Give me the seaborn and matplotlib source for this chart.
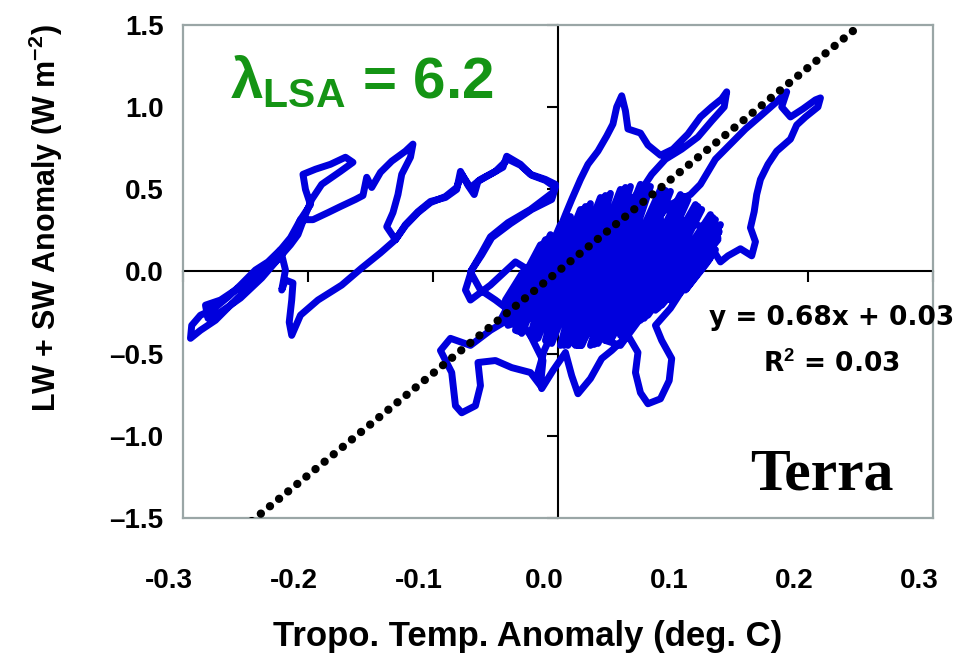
import matplotlib
matplotlib.use("Agg")
import matplotlib.pyplot as plt
import matplotlib.transforms as mtransforms
import seaborn as sns
import pandas as pd

# ---------------- data ----------------
temp_anom = [
    0.006, -0.008, -0.022, -0.038, -0.054, -0.070, -0.086, -0.094, -0.085, -0.082,
    -0.077, -0.066, -0.062, -0.064, -0.050, -0.037, -0.022, -0.014, -0.012, -0.022,
    -0.034, -0.050, -0.062, -0.070, -0.062, -0.054, -0.040, -0.022, -0.004, -0.002,
    -0.010, -0.022, -0.030, -0.041, -0.044, -0.054, -0.064, -0.067, -0.072, -0.078,
    -0.081, -0.090, -0.102, -0.112, -0.122, -0.130, -0.142, -0.157, -0.173, -0.192,
    -0.206, -0.213, -0.215, -0.213, -0.212, -0.218, -0.221, -0.218, -0.222, -0.232,
    -0.242, -0.254, -0.264, -0.277, -0.286, -0.293, -0.294, -0.286, -0.274, -0.262,
    -0.246, -0.230, -0.214, -0.206, -0.198, -0.202, -0.204, -0.194, -0.182, -0.170,
    -0.164, -0.174, -0.189, -0.197, -0.202, -0.208, -0.214, -0.226, -0.237, -0.246,
    -0.258, -0.270, -0.282, -0.280, -0.270, -0.254, -0.237, -0.221, -0.210, -0.206,
    -0.196, -0.184, -0.174, -0.162, -0.156, -0.153, -0.149, -0.142, -0.133, -0.122,
    -0.116, -0.118, -0.125, -0.128, -0.132, -0.137, -0.130, -0.122, -0.112, -0.102,
    -0.090, -0.081, -0.077, -0.070, -0.062, -0.050, -0.040, -0.030, -0.021, -0.010,
    -0.002, -0.005, -0.021, -0.038, -0.053, -0.061, -0.069, -0.074, -0.070,
    -0.054, -0.034, -0.026, -0.042, -0.030, -0.010, 0.002, -0.001, 0.006, 0.011,
    0.018, 0.024, 0.032, 0.039, 0.044, 0.047, 0.051, 0.054, 0.056, 0.066,
    0.072, 0.082, 0.092, 0.104, 0.114, 0.123, 0.131, 0.135, 0.133, 0.123,
    0.112, 0.099, 0.086, 0.075, 0.066, 0.058, 0.043, 0.034, 0.024, 0.014,
    0.006, 0.018, 0.030, 0.042, 0.054, 0.066, 0.078, 0.090, 0.106, 0.114,
    0.126, 0.138, 0.150, 0.162, 0.174, 0.183, 0.179, 0.186, 0.196, 0.206,
    0.210, 0.208, 0.198, 0.191, 0.186, 0.175, 0.168, 0.162, 0.159, 0.157,
    0.154, 0.158, 0.155, 0.146, 0.136, 0.130, 0.123, 0.114, 0.104, 0.090,
    0.078, 0.066, 0.050, 0.038, 0.050, 0.062, 0.074, 0.086, 0.098, 0.118,
    0.128, 0.114, 0.102, 0.090, 0.078, 0.083, 0.091, 0.089, 0.082, 0.072,
    0.066, 0.062, 0.064, 0.056, 0.043, 0.035, 0.026, 0.016, 0.011, 0.006,
    -0.004, -0.013, -0.016, -0.011, -0.002, 0.014, 0.034, 0.050, 0.066, 0.082,
    0.070, 0.054, 0.038, 0.026, 0.010, -0.008, -0.018, -0.006, 0.014, 0.022,
    0.030, 0.042, 0.054, 0.066, 0.050, 0.034, 0.018, 0.002,
    -0.046, -0.014, -0.034, 0.002, -0.022, 0.018, -0.010, 0.034, 0.002, 0.050,
    0.014, 0.066, 0.026, 0.082, 0.038, 0.098, 0.050, 0.110, 0.066, 0.122,
    0.078, 0.130, 0.090, 0.126, 0.102, 0.118,
    0.122, 0.096, 0.128, 0.083, 0.126, 0.072, 0.115, 0.058, 0.104, 0.043,
    0.090, 0.032, 0.074, 0.019, 0.058, 0.008, 0.042, -0.005, 0.026, -0.016,
    0.010, -0.029, -0.006, -0.040,
    0.123, 0.093, 0.129, 0.080, 0.124, 0.069, 0.112, 0.054, 0.101, 0.040,
    0.086, 0.029, 0.070, 0.016, 0.054, 0.005, 0.038, -0.008, 0.022, -0.019,
    0.006, -0.032, -0.010, -0.043,
]
flux_anom = [
    0.058, -0.052, -0.174, -0.285, -0.358, -0.450, -0.407, -0.481, -0.615, -0.817,
    -0.860, -0.817, -0.695, -0.554, -0.542, -0.585, -0.615, -0.695, -0.542, -0.389,
    -0.266, -0.174, -0.113, -0.003, 0.101, 0.211, 0.297, 0.377, 0.481, 0.530,
    0.560, 0.591, 0.652, 0.701, 0.634, 0.591, 0.548, 0.468, 0.524, 0.609,
    0.499, 0.450, 0.426, 0.364, 0.285, 0.193, 0.113, 0.021, -0.083, -0.174,
    -0.266, -0.389, -0.309, -0.174, -0.070, -0.052, -0.113, 0.009, 0.132, 0.058,
    0.009, -0.083, -0.156, -0.236, -0.266, -0.328, -0.407, -0.358, -0.297, -0.205,
    -0.083, 0.058, 0.205, 0.315, 0.407, 0.499, 0.591, 0.622, 0.652, 0.695,
    0.664, 0.609, 0.530, 0.438, 0.346, 0.224, 0.162, 0.058, -0.003, -0.052,
    -0.113, -0.174, -0.205, -0.285, -0.248, -0.162, -0.040, 0.101, 0.242, 0.315,
    0.315, 0.358, 0.395, 0.438, 0.462, 0.573, 0.511, 0.603, 0.671, 0.732,
    0.775, 0.695, 0.591, 0.468, 0.358, 0.272, 0.193, 0.279, 0.358, 0.419,
    0.456, 0.511, 0.591, 0.511, 0.560, 0.609, 0.683, 0.646, 0.585, 0.554,
    0.511, 0.438, 0.377, 0.291, 0.205, 0.101, 0.009, -0.113, -0.174,
    -0.083, 0.058, 0.021, -0.174, -0.205, 0.009, 0.132, 0.211, 0.346, 0.438,
    0.560, 0.652, 0.732, 0.824, 0.897, 1.001, 1.069, 0.977, 0.867, 0.842,
    0.769, 0.707, 0.744, 0.836, 0.940, 1.001, 1.050, 1.093, 1.001, 0.916,
    0.818, 0.744, 0.683, 0.591, 0.487, 0.346, 0.193, 0.058, -0.113, -0.266,
    -0.420, -0.450, -0.285, -0.113, 0.058, 0.193, 0.315, 0.407, 0.468, 0.530,
    0.683, 0.775, 0.867, 0.946, 1.026, 1.093, 1.001, 0.940, 0.989, 1.044,
    1.056, 1.001, 0.940, 0.891, 0.805, 0.732, 0.652, 0.560, 0.468, 0.364,
    0.266, 0.181, 0.095, 0.138, 0.095, 0.058, 0.144, 0.205, 0.162, 0.021,
    -0.126, -0.285, -0.450, -0.420, -0.297, -0.144, 0.009, 0.162, 0.315, 0.266,
    0.193, 0.058, -0.083, -0.224, -0.328, -0.420, -0.530, -0.664, -0.775, -0.805,
    -0.738, -0.615, -0.493, -0.389, -0.481, -0.530, -0.652, -0.744, -0.634, -0.493,
    -0.603, -0.713, -0.615, -0.481, -0.328, -0.174, -0.021, 0.101, 0.224, 0.315,
    0.101, -0.083, -0.174, -0.236, -0.297, -0.174, -0.328, -0.358, -0.113, 0.132,
    0.254, 0.303, 0.407, 0.487, 0.254, 0.132, -0.003, -0.113,
    -0.297, 0.162, -0.358, 0.285, -0.389, 0.377, -0.420, 0.450, -0.450, 0.499,
    -0.450, 0.530, -0.450, 0.499, -0.420, 0.468, -0.389, 0.407, -0.297, 0.346,
    -0.236, 0.285, -0.174, 0.132, -0.113, 0.040,
    0.083, -0.144, 0.205, -0.205, 0.315, -0.266, 0.377, -0.346, 0.438, -0.407,
    0.487, -0.438, 0.517, -0.450, 0.517, -0.450, 0.475, -0.438, 0.413, -0.407,
    0.334, -0.377, 0.224, -0.328,
    0.101, -0.162, 0.242, -0.224, 0.328, -0.285, 0.395, -0.370, 0.456, -0.413,
    0.493, -0.444, 0.524, -0.450, 0.511, -0.450, 0.462, -0.426, 0.395, -0.395,
    0.309, -0.364, 0.193, -0.309,
]

lam_lsa = 6.2                      # slope of the dotted line
fit_x = [-0.245, 0.242]            # extent of the dotted line
fit_y = [lam_lsa * v for v in fit_x]

x_ticks = [-0.3, -0.2, -0.1, 0.0, 0.1, 0.2, 0.3]
x_tick_labels = ["-0.3", "-0.2", "-0.1", "0.0", "0.1", "0.2", "0.3"]
y_ticks = [-1.5, -1.0, -0.5, 0.0, 0.5, 1.0, 1.5]
y_tick_labels = ["\u20131.5", "\u20131.0", "\u20130.5", "0.0", "0.5", "1.0", "1.5"]

fit_eq = "y = 0.68x + 0.03"
fit_r2 = "R$^{2}$ = 0.03"

# ---------------- style ----------------
sns.set_theme(style="white")
plt.rcParams["font.family"] = ["Liberation Sans", "DejaVu Sans"]
plt.rcParams["font.weight"] = "bold"
plt.rcParams["mathtext.fontset"] = "custom"
plt.rcParams["mathtext.rm"] = "Liberation Sans:bold"
plt.rcParams["mathtext.bf"] = "Liberation Sans:bold"
plt.rcParams["mathtext.it"] = "Liberation Sans:bold"
for key in ("text.color", "axes.labelcolor", "xtick.color", "ytick.color"):
    plt.rcParams[key] = "black"

fig = plt.figure(figsize=(9.61, 6.65), dpi=100)
ax = fig.add_axes([0.1904, 0.2211, 0.7804, 0.7414])

df = pd.DataFrame({"temp": temp_anom, "flux": flux_anom})
sns.lineplot(data=df, x="temp", y="flux", sort=False, estimator=None,
             color="#0000dd", lw=5.0, ax=ax, zorder=3)

sns.lineplot(x=fit_x, y=fit_y, color="black", lw=6.0,
             linestyle=(0, (0.01, 1.4)), dash_capstyle="round",
             ax=ax, zorder=4)

ax.set_xlim(-0.3, 0.3)
ax.set_ylim(-1.5, 1.5)

# frame
for s in ax.spines.values():
    s.set_visible(True)
    s.set_color("#9aa6a6")
    s.set_linewidth(1.6)

# tick labels at the frame, no tick marks there
ax.set_xticks(x_ticks)
ax.set_xticklabels(x_tick_labels)
ax.set_yticks(y_ticks)
ax.set_yticklabels(y_tick_labels)
ax.tick_params(axis="x", length=0, pad=36, labelsize=20, labelcolor="black")
ax.tick_params(axis="y", length=0, pad=14, labelsize=20, labelcolor="black")
shift = mtransforms.ScaledTranslation(-14 / 100, 0, fig.dpi_scale_trans)
for lab in ax.get_xticklabels():
    lab.set_fontweight("bold")
    lab.set_transform(lab.get_transform() + shift)
for lab in ax.get_yticklabels():
    lab.set_fontweight("bold")

# axes through the origin, with tick marks
secx = ax.secondary_xaxis(0, transform=ax.transData)
secx.set_alignment("bottom")
secx.set_xticks(x_ticks)
secx.tick_params(axis="x", length=8, width=1.5, color="black",
                 direction="out", labelbottom=False, labeltop=False)
for s in secx.spines.values():
    s.set_color("black")
    s.set_linewidth(1.5)

secy = ax.secondary_yaxis(0, transform=ax.transData)
secy.set_alignment("left")
secy.set_yticks(y_ticks)
secy.tick_params(axis="y", length=8, width=1.5, color="black",
                 direction="out", labelleft=False, labelright=False)
for s in secy.spines.values():
    s.set_color("black")
    s.set_linewidth(1.5)

ax.set_xlabel("Tropo. Temp. Anomaly (deg. C)", fontsize=25, fontweight="bold",
              color="black")
ax.set_ylabel("LW + SW Anomaly (W m$^{-2}$)", fontsize=22, fontweight="bold",
              color="black")
ax.xaxis.set_label_coords(0.459, -0.207)
ax.yaxis.set_label_coords(-0.157, 0.608)
ax.xaxis.label.set_va("top")

# annotations
ax.text(0.063, 0.852, "\u03bb$_{\\mathbf{LSA}}$ = " + f"{lam_lsa}",
        transform=ax.transAxes, fontsize=42, fontweight="bold",
        color="#149414", ha="left", va="baseline")
ax.text(0.865, 0.406, fit_eq, transform=ax.transAxes, fontsize=19,
        fontweight="bold", family="DejaVu Sans", ha="center", va="center",
        color="black")
ax.text(0.865, 0.31, fit_r2, transform=ax.transAxes, fontsize=19,
        fontweight="bold", family="DejaVu Sans", ha="center", va="center",
        color="black")
ax.text(0.756, 0.057, "Terra", transform=ax.transAxes, fontsize=43,
        fontweight="bold", family=["Liberation Serif", "DejaVu Serif"],
        ha="left", va="baseline", color="black")

fig.savefig("out.png", dpi=100)
